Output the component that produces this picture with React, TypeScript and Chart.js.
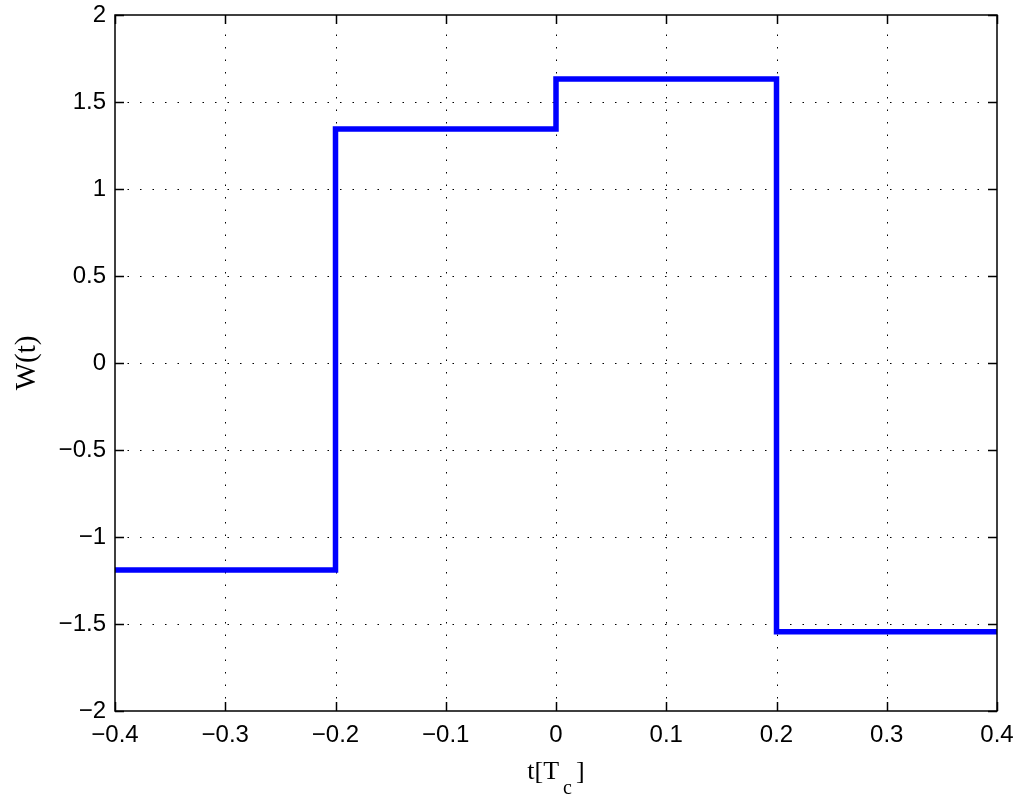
import React, { useEffect, useRef } from "react";
import { Chart, registerables } from "chart.js";

Chart.register(...registerables);

// Data: step function W(t) over t in units of Tc (step-before: value holds until the next t)
const tValues = [-0.4, -0.2, 0, 0.2, 0.4];
const wValues = [-1.19, 1.345, 1.632, -1.545, -1.545];

const xTickValues = [-0.4, -0.3, -0.2, -0.1, 0, 0.1, 0.2, 0.3, 0.4];
const xTickLabels = ["\u22120.4", "\u22120.3", "\u22120.2", "\u22120.1", "0", "0.1", "0.2", "0.3", "0.4"];
const yTickValues = [-2, -1.5, -1, -0.5, 0, 0.5, 1, 1.5, 2];
const yTickLabels = ["\u22122", "\u22121.5", "\u22121", "\u22120.5", "0", "0.5", "1", "1.5", "2"];

const xTitleMain = "t[T";
const xTitleSub = "c";
const xTitleEnd = "]";
const yTitle = "W(t)";

function labelFor(v: number, vals: number[], labels: string[]) {
  const i = vals.findIndex((a) => Math.abs(a - v) < 1e-6);
  return i >= 0 ? labels[i] : "";
}

const framePlugin = {
  id: "matlabFrame",
  beforeDatasetsDraw(chart: any) {
    const { ctx, chartArea } = chart;
    const xs = chart.scales.x;
    const ys = chart.scales.y;
    const { left, right, top, bottom } = chartArea;
    ctx.save();
    ctx.strokeStyle = "#000";
    ctx.lineWidth = 1;
    ctx.setLineDash([1.5, 11]);
    xTickValues.forEach((v) => {
      const px = Math.round(xs.getPixelForValue(v)) + 0.5;
      if (px <= left + 2 || px >= right - 2) return;
      ctx.beginPath();
      ctx.moveTo(px, bottom);
      ctx.lineTo(px, top);
      ctx.stroke();
    });
    yTickValues.forEach((v) => {
      const py = Math.round(ys.getPixelForValue(v)) + 0.5;
      if (py <= top + 2 || py >= bottom - 2) return;
      ctx.beginPath();
      ctx.moveTo(left, py);
      ctx.lineTo(right, py);
      ctx.stroke();
    });
    ctx.setLineDash([]);
    ctx.restore();
  },
  afterDatasetsDraw(chart: any) {
    const { ctx, chartArea } = chart;
    const xs = chart.scales.x;
    const ys = chart.scales.y;
    const { left, right, top, bottom } = chartArea;
    const tl = 9;
    ctx.save();
    ctx.strokeStyle = "#000";
    ctx.lineWidth = 1.5;
    ctx.beginPath();
    ctx.rect(left, top, right - left, bottom - top);
    ctx.stroke();
    ctx.beginPath();
    xTickValues.forEach((v) => {
      const px = Math.round(xs.getPixelForValue(v)) + 0.5;
      ctx.moveTo(px, bottom);
      ctx.lineTo(px, bottom - tl);
      ctx.moveTo(px, top);
      ctx.lineTo(px, top + tl);
    });
    yTickValues.forEach((v) => {
      const py = Math.round(ys.getPixelForValue(v)) + 0.5;
      ctx.moveTo(left, py);
      ctx.lineTo(left + tl, py);
      ctx.moveTo(right, py);
      ctx.lineTo(right - tl, py);
    });
    ctx.stroke();

    // Axis titles
    ctx.fillStyle = "#000";
    const mainFont = "26px 'Liberation Serif', 'Times New Roman', serif";
    const subFont = "20px 'Liberation Serif', 'Times New Roman', serif";
    ctx.font = mainFont;
    const w1 = ctx.measureText(xTitleMain).width;
    const w3 = ctx.measureText(xTitleEnd).width;
    ctx.font = subFont;
    const w2 = ctx.measureText(xTitleSub).width;
    const gap = 4;
    const total = w1 + gap + w2 + gap + w3;
    const cx = (left + right) / 2;
    let x0 = cx - total / 2;
    const baseY = 779;
    ctx.textBaseline = "alphabetic";
    ctx.textAlign = "left";
    ctx.font = mainFont;
    ctx.fillText(xTitleMain, x0, baseY);
    x0 += w1 + gap;
    ctx.font = subFont;
    ctx.fillText(xTitleSub, x0, baseY + 15);
    x0 += w2 + gap;
    ctx.font = mainFont;
    ctx.fillText(xTitleEnd, x0, baseY);

    ctx.translate(27, (top + bottom) / 2);
    ctx.rotate(-Math.PI / 2);
    ctx.font = "29px 'Liberation Serif', 'Times New Roman', serif";
    ctx.textAlign = "center";
    ctx.textBaseline = "middle";
    ctx.fillText(yTitle, 0, 0);
    ctx.restore();
  },
};

export default function App() {
  const ref = useRef<HTMLCanvasElement | null>(null);
  useEffect(() => {
    if (!ref.current) return;
    const chart = new Chart(ref.current, {
      type: "line",
      data: {
        datasets: [
          {
            data: tValues.map((t, i) => ({ x: t, y: wValues[i] })),
            borderColor: "#0000ff",
            borderWidth: 5.5,
            stepped: true,
            pointRadius: 0,
            fill: false,
            borderJoinStyle: "miter",
            borderCapStyle: "butt",
          } as any,
        ],
      },
      options: {
        animation: false,
        responsive: false,
        maintainAspectRatio: false,
        layout: { padding: { top: 15, right: 27, left: 0, bottom: 0 } },
        plugins: { legend: { display: false }, tooltip: { enabled: false } },
        scales: {
          x: {
            type: "linear",
            min: -0.4,
            max: 0.4,
            afterBuildTicks: (scale: any) => {
              scale.ticks = xTickValues.map((v) => ({ value: v }));
            },
            afterFit: (scale: any) => {
              scale.height = 92;
              scale.paddingLeft = 0;
              scale.paddingRight = 0;
            },
            grid: { display: false, drawTicks: false },
            border: { display: false },
            ticks: {
              padding: 10,
              color: "#000",
              font: { family: "'Liberation Sans', Arial, sans-serif", size: 24 },
              maxRotation: 0,
              autoSkip: false,
              callback: (v: any) => labelFor(Number(v), xTickValues, xTickLabels),
            },
          },
          y: {
            type: "linear",
            min: -2,
            max: 2,
            afterBuildTicks: (scale: any) => {
              scale.ticks = yTickValues.map((v) => ({ value: v }));
            },
            afterFit: (scale: any) => {
              scale.width = 115;
              scale.paddingTop = 0;
              scale.paddingBottom = 0;
            },
            grid: { display: false, drawTicks: false },
            border: { display: false },
            ticks: {
              padding: 9,
              color: "#000",
              font: { family: "'Liberation Sans', Arial, sans-serif", size: 24 },
              autoSkip: false,
              callback: (v: any) => labelFor(Number(v), yTickValues, yTickLabels),
            },
          },
        },
      },
      plugins: [framePlugin],
    });
    return () => chart.destroy();
  }, []);
  return (
    <div style={{ position: "fixed", left: 0, top: 0, width: 1024, height: 803, background: "#fff" }}>
      <canvas ref={ref} width={1024} height={803} style={{ width: 1024, height: 803 }} />
    </div>
  );
}
